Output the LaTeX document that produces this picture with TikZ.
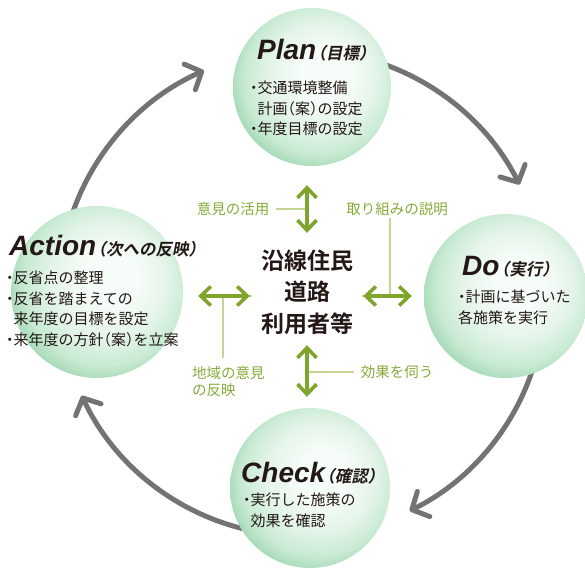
\documentclass[tikz,border=0pt]{standalone}
\usepackage{fontspec}
\usetikzlibrary{arrows.meta,calc}

% Japanese faces: regular body, bold centre text, slanted bold for the headings
\newfontfamily\jpfont{Noto Sans CJK JP}[RawFeature=+halt]
\newfontfamily\jpbold{Noto Sans CJK JP Bold}
\newfontfamily\jpslant{Noto Sans CJK JP Bold}[FakeSlant=0.2,RawFeature=+halt]
\newfontfamily\titlefont{Liberation Sans}

\definecolor{ink}{RGB}{35,24,21}
\definecolor{cyclegray}{RGB}{115,115,115}
\definecolor{leafgreen}{RGB}{127,165,45}
\definecolor{labelgreen}{RGB}{134,170,58}
\definecolor{leadergreen}{RGB}{196,214,150}
\definecolor{orbA}{RGB}{246,252,247}
\definecolor{orbB}{RGB}{228,244,233}
\definecolor{orbC}{RGB}{200,234,210}
\definecolor{orbD}{RGB}{160,215,178}

% soft green sphere, lit from the upper right
\pgfdeclareradialshading{orb}{\pgfpoint{5bp}{5bp}}{%
  color(0bp)=(orbA); color(8bp)=(orbA); color(17bp)=(orbB);
  color(24bp)=(orbC); color(29bp)=(orbD); color(50bp)=(orbD)}

\pgfdeclarelayer{arcs}
\pgfsetlayers{arcs,main}

\newcommand\headword[2]{{\titlefont\bfseries\itshape\fontsize{28bp}{30bp}\selectfont #1}\kern1.5bp{\jpslant\fontsize{16.5bp}{18bp}\selectfont（#2）}}

\begin{document}
\begin{tikzpicture}[x=1bp,y=-1bp,
  orb/.style={circle,inner sep=0,draw=none,shade,shading=orb},
  title/.style={anchor=base west,inner sep=0,text=ink},
  body/.style={anchor=north west,inner sep=0,align=left,text=ink,
    font=\jpfont\fontsize{15bp}{20.5bp}\selectfont},
  cyclearrow/.style={draw=cyclegray,line width=5bp,line cap=round,
    -{Straight Barb[length=13bp,width=28bp,round]}},
  link/.style={draw=leafgreen,line width=3.6bp,
    {Straight Barb[length=10bp,width=19bp]}-{Straight Barb[length=10bp,width=19bp]}},
  leader/.style={draw=leadergreen,line width=1.3bp},
  tag/.style={inner sep=0,text=labelgreen,align=left,
    font=\jpfont\fontsize{14.5bp}{17.5bp}\selectfont}]

\useasboundingbox (0,0) rectangle (585,569);

% the four PDCA spheres
\node[orb,minimum size=158bp] (plan) at (312,87) {};
\node[orb,minimum size=172bp] (act)  at (97,292) {};
\node[orb,minimum size=164bp] (do)   at (506,296) {};
\node[orb,minimum size=160bp] (chk)  at (310,488) {};

% cycle arrows, running under the spheres
\begin{pgfonlayer}{arcs}
  \coordinate (hub) at (302,293);
  \draw[cyclearrow] ([shift={(75:243bp)}]hub)   arc[start angle=75,  end angle=26.5,  radius=243bp];
  \draw[cyclearrow] ([shift={(-15:243bp)}]hub)  arc[start angle=-15, end angle=-63.7, radius=243bp];
  \draw[cyclearrow] ([shift={(-100:243bp)}]hub) arc[start angle=-100,end angle=-155,  radius=243bp];
  \draw[cyclearrow] ([shift={(165:243bp)}]hub)  arc[start angle=165, end angle=113.8, radius=243bp];
\end{pgfonlayer}

% sphere headings and contents
\node[title] (planT) at (257,60) {\headword{Plan}{目標}};
\node[body] (planB) at (250,81)
  {・交通環境整備\\\phantom{・}計画（案）の設定\\・年度目標の設定};

\node[title] (actT) at (9,255) {\headword{Action}{次への反映}};
\node[body] (actB) at (6,271)
  {・反省点の整理\\・反省を踏まえての\\\phantom{・}来年度の目標を設定\\・来年度の方針（案）を立案};

\node[title] (doT) at (462,275) {\headword{Do}{実行}};
\node[body] (doB) at (458,290)
  {・計画に基づいた\\各施策を実行};

\node[title] (chkT) at (241,482) {\headword{Check}{確認}};
\node[body] (chkB) at (243,493)
  {・実行した施策の\\\phantom{・}効果を確認};

% residents and road users in the middle
\node[inner sep=0,minimum width=110bp,minimum height=100bp,align=center,text=ink,
  font=\jpbold\fontsize{23bp}{31.5bp}\selectfont] (users) at (307,292)
  {沿線住民\\道路\\利用者等};

% labels of the exchanges
\node[tag] (l1) at (233,209) {意見の活用};
\node[tag] (l2) at (397,209) {取り組みの説明};
\node[tag,anchor=north west] (l3) at (192,366) {地域の意見\\の反映};
\node[tag] (l4) at (397,372) {効果を伺う};

\draw[leader] ($(l1.east)+(7,0)$) -- (l1.east -| users.center);
\draw[leader] ($(l2.south)+(-7,2)$) |- ($(users.east)+(0,4)$);
\draw[leader] ($(l3.north west)+(31,-8)$) |- ($(users.west)+(0,4)$);
\draw[leader] ($(l4.west)+(-7,0)$) -- (l4.west -| users.center);

% two-way links between the centre and each sphere
\draw[link] ($(plan.south -| users.north)+(0,19)$) -- ($(users.north)+(0,-9)$);
\draw[link] ($(users.south)+(0,3)$) -- ($(chk.north -| users.south)+(0,-11)$);
\draw[link] ($(act.east |- users.west)+(15,4)$) -- ($(users.west)+(-2,4)$);
\draw[link] ($(users.east)+(1,4)$) -- ($(do.west |- users.east)+(-12,4)$);

\end{tikzpicture}
\end{document}
